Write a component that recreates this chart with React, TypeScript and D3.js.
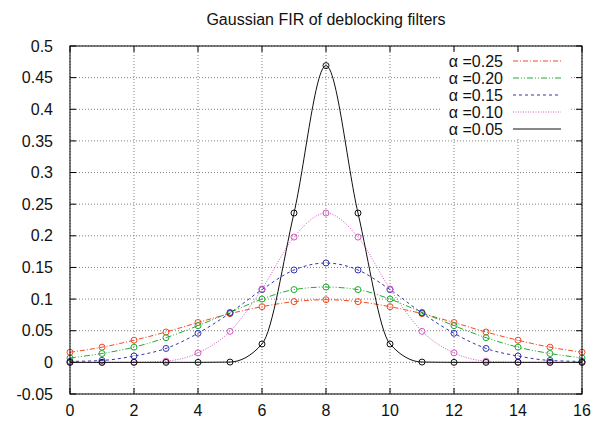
import React from "react";
import * as d3 from "d3";

const taps = [0, 1, 2, 3, 4, 5, 6, 7, 8, 9, 10, 11, 12, 13, 14, 15, 16];
const xTickValues = [0, 2, 4, 6, 8, 10, 12, 14, 16];
const yTickValues = [-0.05, 0, 0.05, 0.1, 0.15, 0.2, 0.25, 0.3, 0.35, 0.4, 0.45, 0.5];
const yTickLabels = ["-0.05", "0", "0.05", "0.1", "0.15", "0.2", "0.25", "0.3", "0.35", "0.4", "0.45", "0.5"];

const alpha025 = [0.016, 0.024, 0.035, 0.048, 0.063, 0.077, 0.088, 0.096, 0.099, 0.096, 0.088, 0.077, 0.063, 0.048, 0.035, 0.024, 0.016];
const alpha020 = [0.007, 0.014, 0.024, 0.039, 0.058, 0.079, 0.1, 0.115, 0.119, 0.115, 0.1, 0.079, 0.058, 0.039, 0.024, 0.014, 0.007];
const alpha015 = [0.0015, 0.003, 0.01, 0.022, 0.046, 0.078, 0.115, 0.146, 0.157, 0.146, 0.115, 0.078, 0.046, 0.022, 0.01, 0.003, 0.0015];
const alpha010 = [0, 0, 0.0003, 0.002, 0.015, 0.049, 0.116, 0.198, 0.236, 0.198, 0.116, 0.049, 0.015, 0.002, 0.0003, 0, 0];
const alpha005 = [0, 0, 0, 0, 0, 0.0005, 0.029, 0.236, 0.469, 0.236, 0.029, 0.0005, 0, 0, 0, 0, 0];

const seriesLabels = ["α =0.25", "α =0.20", "α =0.15", "α =0.10", "α =0.05"];
const seriesValues = [alpha025, alpha020, alpha015, alpha010, alpha005];
const seriesColors = ["#f44a22", "#22aa33", "#3434b0", "#d45cc0", "#111111"];
const seriesDash = ["5,2,1,2", "6,2,1,2,1,2", "3,3", "1,1.5", "none"];

const title = "Gaussian FIR of deblocking filters";

const W = 604;
const H = 426;
const L = 70, R = 582, T = 46, B = 394;
const FONT = "'Liberation Sans', Arial, sans-serif";

export default function App() {
  const x = d3.scaleLinear().domain([0, 16]).range([L, R]);
  const y = d3.scaleLinear().domain([-0.05, 0.5]).range([B, T]);
  const line = d3
    .line<number>()
    .x((_, i) => x(taps[i]))
    .y((d) => y(d))
    .curve(d3.curveMonotoneX);

  const tickLen = 6;
  const legendRight = 503;
  const legendY0 = 61;
  const legendStep = 17;

  return (
    <div style={{ position: "fixed", left: 0, top: 0 }}>
      <svg width={W} height={H} style={{ display: "block", background: "#fff" }} fontFamily={FONT}>
        <rect x={0} y={0} width={W} height={H} fill="#fff" />
        {xTickValues.map((v) => (
          <line key={"gx" + v} x1={x(v)} x2={x(v)} y1={T} y2={B} stroke="#808080" strokeWidth={1} strokeDasharray="1,2" />
        ))}
        {yTickValues.map((v) => (
          <line key={"gy" + v} x1={L} x2={R} y1={y(v)} y2={y(v)} stroke="#808080" strokeWidth={1} strokeDasharray="1,2" />
        ))}
        <rect x={441} y={50} width={130} height={88} fill="#fff" />
        {xTickValues.map((v) => (
          <g key={"tx" + v}>
            <line x1={x(v)} x2={x(v)} y1={B} y2={B - tickLen} stroke="#000" />
            <line x1={x(v)} x2={x(v)} y1={T} y2={T + tickLen} stroke="#000" />
            <text x={x(v)} y={416} fontSize={16} textAnchor="middle" fill="#111">
              {String(v)}
            </text>
          </g>
        ))}
        {yTickValues.map((v, i) => (
          <g key={"ty" + v}>
            <line x1={L} x2={L + tickLen} y1={y(v)} y2={y(v)} stroke="#000" />
            <line x1={R} x2={R - tickLen} y1={y(v)} y2={y(v)} stroke="#000" />
            <text x={53} y={y(v)} dy="0.35em" fontSize={16} textAnchor="end" fill="#111">
              {yTickLabels[i]}
            </text>
          </g>
        ))}
        {seriesValues.map((vals, si) => (
          <g key={"s" + si}>
            <path
              d={line(vals) || ""}
              fill="none"
              stroke={seriesColors[si]}
              strokeWidth={1}
              strokeDasharray={seriesDash[si]}
            />
            {vals.map((v, i) => (
              <circle key={i} cx={x(taps[i])} cy={y(v)} r={3} fill="none" stroke={seriesColors[si]} strokeWidth={1} />
            ))}
          </g>
        ))}
        {seriesLabels.map((lab, i) => (
          <g key={"lg" + i}>
            <text x={legendRight} y={legendY0 + i * legendStep} dy="0.35em" fontSize={16} textAnchor="end" fill="#111">
              {lab}
            </text>
            <line
              x1={513}
              x2={561}
              y1={legendY0 + i * legendStep}
              y2={legendY0 + i * legendStep}
              stroke={seriesColors[i]}
              strokeWidth={1}
              strokeDasharray={seriesDash[i]}
            />
          </g>
        ))}
        <rect x={L} y={T} width={R - L} height={B - T} fill="none" stroke="#000" strokeWidth={1} />
        <text x={(L + R) / 2} y={25} fontSize={16} textAnchor="middle" fill="#111">
          {title}
        </text>
      </svg>
    </div>
  );
}
